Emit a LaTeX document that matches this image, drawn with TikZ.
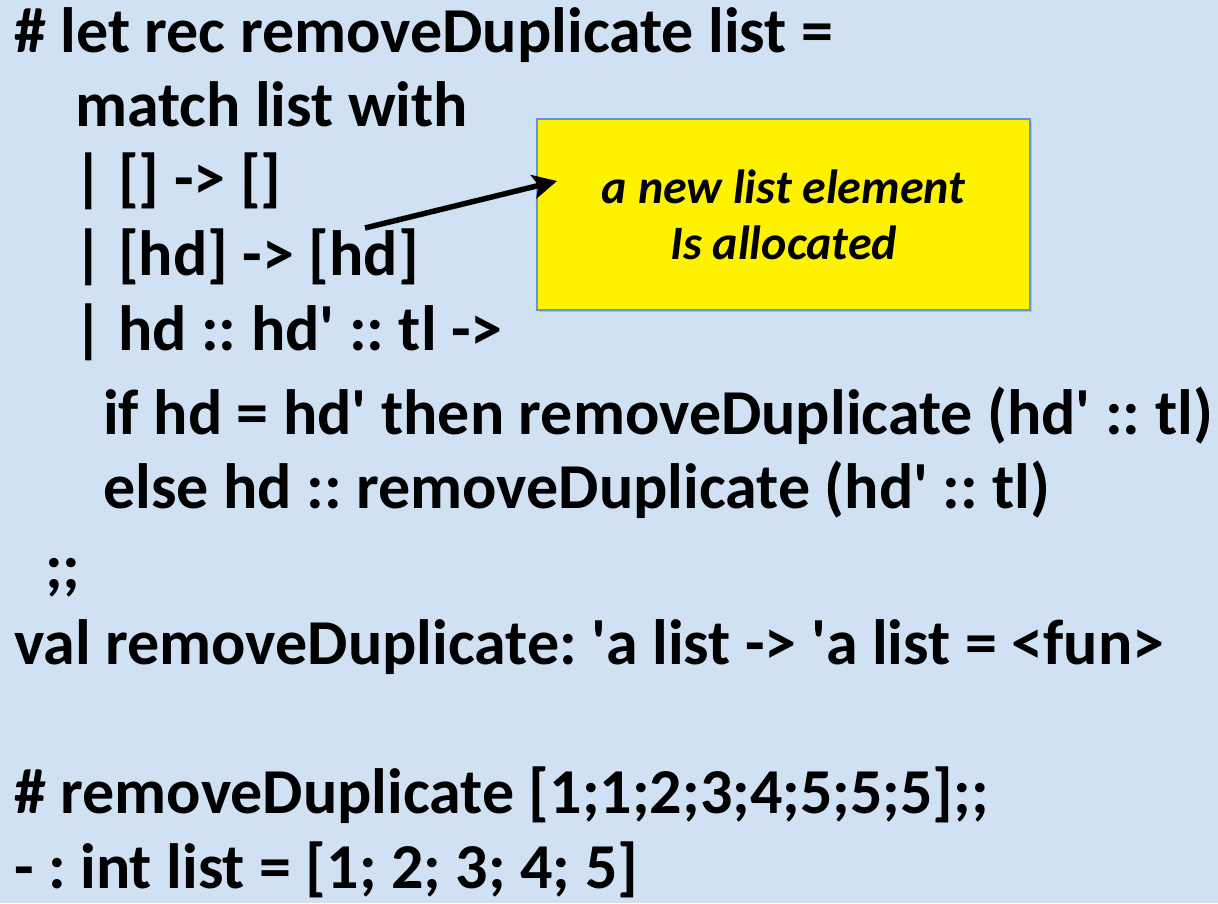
\documentclass[tikz,border=0pt]{standalone}
\usepackage{fontspec}
\setmainfont{Carlito}
\usetikzlibrary{shadows,arrows.meta}
\definecolor{slidebg}{RGB}{207,225,243}
\definecolor{noteborder}{RGB}{100,150,210}
\newcommand{\q}{\textquotesingle}
\tikzset{
	codeline/.style={anchor=base west, inner sep=0pt, font=\bfseries\fontsize{64}{70}\selectfont},
	notebox/.style={draw=noteborder, line width=1.2pt, fill=yellow, align=center,
		minimum width=493pt, minimum height=191pt, inner sep=0pt,
		font=\bfseries\itshape\fontsize{48}{56}\selectfont,
		drop shadow={shadow xshift=2pt, shadow yshift=-2pt, opacity=0.35}}
}
\begin{document}
\frenchspacing
\begin{tikzpicture}[x=1pt, y=-1pt]
		\fill[slidebg] (0,0) rectangle (1218,903);
		\useasboundingbox (0,0) rectangle (1218,903);
		
		% the function
		\node[codeline] (def) at (14,52) {\# let rec removeDuplicate list =};
		\node[codeline] (match) at (75,126) {match list with};
		\node[codeline] (nil) at (73,199) {| [] -> []};
		\node[codeline] (single) at (73,275) {| [hd] -> [hd]};
		\node[codeline] (cons) at (73,350) {| hd :: hd\q{} :: tl ->};
		\node[codeline] (ifthen) at (103,434) {if hd = hd\q{} then removeDuplicate (hd\q{} :: tl)};
		\node[codeline] (else) at (103,508) {else hd :: removeDuplicate (hd\q{} :: tl)};
		\node[codeline] (semi) at (45,588) {;;};
		\node[codeline] (val) at (14,664) {val removeDuplicate: \q{}a list -> \q{}a list = <fun>};
		
		% the call
		\node[codeline] (call) at (14,813) {\# removeDuplicate [1;1;2;3;4;5;5;5];;};
		\node[codeline] (result) at (14,888) {- : int list = [1; 2; 3; 4; 5]};
		
		% the note
		\node[notebox] (note) at (783.5,214.5) {a new list element\\Is allocated};
		\coordinate (tail) at (365,228);
		\coordinate (tip) at (557,181);
		\draw[line width=5.5pt, -{Stealth[length=24pt, width=24pt, inset=5pt]}] (tail) -- (tip);
	\end{tikzpicture}
\end{document}
